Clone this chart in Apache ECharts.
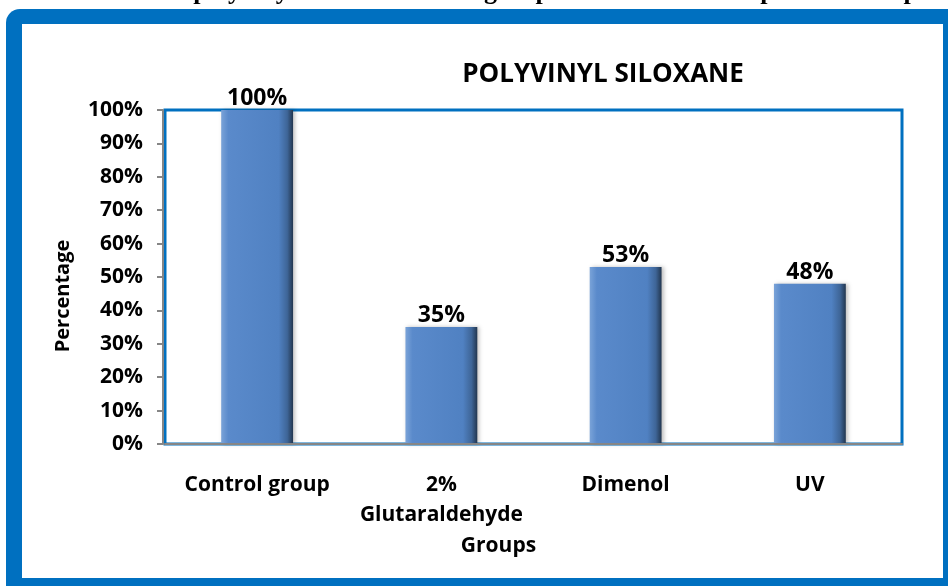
<!DOCTYPE html>
<html>
<head>
<meta charset="utf-8">
<script src="https://cdn.jsdelivr.net/npm/echarts@6/dist/echarts.min.js"></script>
<style>
  html, body { margin: 0; padding: 0; background: #fff; overflow: hidden; }
  #chart { width: 948px; height: 586px; }
</style>
</head>
<body>
<div id="chart"></div>
<script>
// chart data
const categories = ["Control group", "2%\nGlutaraldehyde", "Dimenol", "UV"];
const percentages = [100, 35, 53, 48];
const yTicks = [0, 10, 20, 30, 40, 50, 60, 70, 80, 90, 100];

const chart = echarts.init(document.getElementById("chart"));
const font = "Open Sans";

chart.setOption({
  animation: false,
  backgroundColor: "#ffffff",
  title: {
    text: "POLYVINYL SILOXANE",
    left: 598,
    top: 57,
    textAlign: "center",
    textStyle: { fontFamily: font, fontWeight: "bold", fontSize: 26, color: "#000" },
  },
  graphic: [
    // clipped figure caption at the very top
    {
      type: "text",
      left: -25,
      top: -21,
      z: 1,
      style: {
        text: "Microbial count on polyvinyl siloxane control group and disinfected impression samples",
        font: 'bold 26px "Liberation Serif"',
        fill: "#000",
      },
    },
    // blue frame
    {
      type: "rect",
      z: 2,
      shape: { x: 6, y: 9, width: 960, height: 600, r: 14 },
      style: { fill: "#0070C0" },
    },
    {
      type: "rect",
      z: 3,
      shape: { x: 22, y: 24, width: 921, height: 554 },
      style: { fill: "#ffffff" },
    },
  ],
  grid: {
    left: 165,
    right: 46,
    top: 110,
    bottom: 142,
    show: true,
    z: 4,
    borderColor: "#0070C0",
    borderWidth: 3,
    backgroundColor: "transparent",
  },
  xAxis: {
    type: "category",
    data: categories,
    z: 10,
    name: "Groups",
    nameLocation: "middle",
    nameGap: 92,
    nameTextStyle: { fontFamily: font, fontWeight: "bold", fontSize: 21, color: "#000", padding: [0, 70, 0, 0] },
    axisLine: { show: true, lineStyle: { color: "#868686", width: 2 } },
    axisTick: { show: false },
    axisLabel: {
      fontFamily: font,
      fontWeight: "bold",
      fontSize: 21,
      color: "#000",
      margin: 26,
      lineHeight: 30,
      interval: 0,
    },
  },
  yAxis: {
    type: "value",
    min: yTicks[0],
    max: yTicks[yTicks.length - 1],
    interval: yTicks[1] - yTicks[0],
    z: 10,
    offset: 2,
    name: "Percentage",
    nameLocation: "middle",
    nameRotate: 90,
    nameGap: 90,
    nameTextStyle: { fontFamily: font, fontWeight: "bold", fontSize: 20, color: "#000", padding: [0, 38, 0, 0] },
    axisLine: { show: true, lineStyle: { color: "#868686", width: 2 } },
    axisTick: { show: true, length: 6, lineStyle: { color: "#868686", width: 2 } },
    splitLine: { show: false },
    axisLabel: {
      fontFamily: font,
      fontWeight: "bold",
      fontSize: 21,
      color: "#000",
      margin: 20,
      formatter: "{value}%",
    },
  },
  series: [
    {
      type: "bar",
      data: percentages,
      barWidth: "39%",
      z: 5,
      itemStyle: {
        color: {
          type: "linear",
          x: 0, y: 0, x2: 1, y2: 0,
          colorStops: [
            { offset: 0, color: "#7aa3d8" },
            { offset: 0.1, color: "#5a8acb" },
            { offset: 0.8, color: "#5081c2" },
            { offset: 0.92, color: "#3e6597" },
            { offset: 1, color: "#22364f" },
          ],
        },
        shadowColor: "rgba(0,0,0,0.25)",
        shadowBlur: 4,
        shadowOffsetX: 2,
      },
      label: {
        show: true,
        position: "top",
        distance: 0,
        formatter: "{c}%",
        fontFamily: font,
        fontWeight: "bold",
        fontSize: 23,
        color: "#000",
      },
    },
  ],
});
</script>
</body>
</html>
